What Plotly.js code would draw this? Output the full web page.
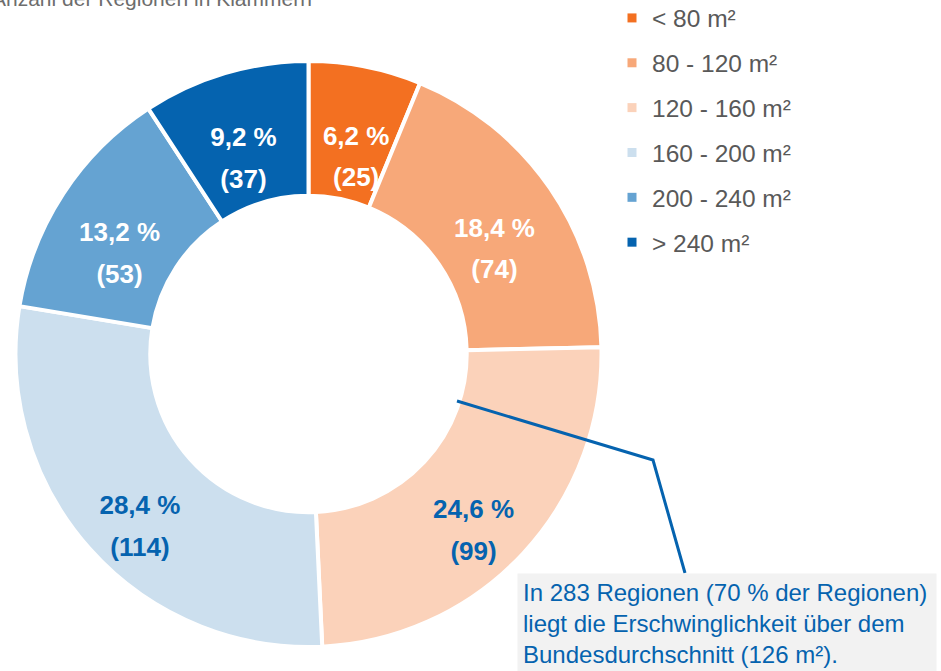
<!DOCTYPE html>
<html>
<head>
<meta charset="utf-8">
<script src="https://cdn.plot.ly/plotly-3.0.1.min.js"></script>
<style>html,body{margin:0;padding:0;background:#fff;}#chart{width:941px;height:671px;}</style>
</head>
<body>
<div id="chart"></div>
<script>
// ---- data ----
var categories = ['< 80 m²', '80 - 120 m²', '120 - 160 m²', '160 - 200 m²', '200 - 240 m²', '> 240 m²'];
var regionCounts = [25, 74, 99, 114, 53, 37];
var sliceColors = ['#F37021', '#F7A879', '#FBD2BA', '#CCDFEE', '#65A3D2', '#0563AF'];
var labelColors = ['#FFFFFF', '#FFFFFF', '#0563AF', '#0563AF', '#FFFFFF', '#FFFFFF'];
var subtitleText = 'Anzahl der Regionen in Klammern';
var noteText = 'In 283 Regionen (70 % der Regionen)<br>liegt die Erschwinglichkeit über dem<br>Bundesdurchschnitt (126 m²).';

var W = 941, H = 671;
function px(x) { return x / W; }
function py(y) { return 1 - y / H; }

var total = regionCounts.reduce(function (a, b) { return a + b; }, 0);
var sliceText = regionCounts.map(function (v) {
  var share = v / total;
  var p = (share * 100).toFixed(1).replace('.', ',');
  // invisible spacer lines push the label block towards the hole (narrow slices need more)
  var pad = '<span style="font-size:30px">\u00a0</span><br>\u00a0<br>';
  if (share < 0.08) pad += '\u00a0<br>\u00a0<br>';
  return pad + '<b><span style="font-size:26px">' + p + ' %</span></b><br><br><b><span style="font-size:26px">(' + v + ')</span></b>';
});

var FONT = 'Arial, "Liberation Sans", sans-serif';

var traces = [{
  type: 'pie',
  labels: categories,
  values: regionCounts,
  text: sliceText,
  textinfo: 'text',
  textposition: 'inside',
  insidetextorientation: 'horizontal',
  insidetextfont: { family: FONT, size: 16, color: labelColors },
  hole: 0.54,
  sort: false,
  direction: 'clockwise',
  rotation: 0,
  marker: { colors: sliceColors, line: { color: '#FFFFFF', width: 4 } },
  domain: { x: [px(15.5), px(601.5)], y: [py(647), py(61)] },
  showlegend: false,
  hoverinfo: 'label+value+percent'
}];

categories.forEach(function (c, i) {
  traces.push({
    type: 'scatter',
    mode: 'markers',
    x: [null], y: [null],
    name: c,
    legendgroup: 'g' + i,
    marker: { symbol: 'square', size: 9, color: sliceColors[i] },
    showlegend: true,
    hoverinfo: 'skip'
  });
});

var layout = {
  width: W, height: H,
  margin: { l: 0, r: 0, t: 0, b: 0, autoexpand: false },
  paper_bgcolor: '#FFFFFF',
  plot_bgcolor: 'rgba(0,0,0,0)',
  font: { family: FONT, color: '#595959' },
  xaxis: { visible: false, range: [0, 1] },
  yaxis: { visible: false, range: [0, 1] },
  showlegend: true,
  uniformtext: { minsize: 16, mode: 'show' },
  legend: {
    x: px(612), xanchor: 'left',
    y: py(-4.5), yanchor: 'top',
    font: { family: FONT, size: 24.5, color: '#595959' },
    tracegroupgap: 10,
    bgcolor: 'rgba(0,0,0,0)'
  },
  annotations: [
    {
      text: subtitleText,
      xref: 'paper', yref: 'paper',
      x: px(314), xanchor: 'right',
      y: py(-1), yanchor: 'middle',
      showarrow: false,
      font: { family: FONT, size: 21, color: '#6D6D6D' }
    },
    {
      text: noteText,
      xref: 'paper', yref: 'paper',
      x: px(517), xanchor: 'left',
      y: py(573), yanchor: 'top',
      showarrow: false,
      align: 'left',
      width: 408,
      bgcolor: '#F2F2F2',
      borderpad: 5,
      font: { family: FONT, size: 24, color: '#0563AF' }
    }
  ],
  shapes: [
    {
      type: 'path',
      xref: 'paper', yref: 'paper',
      path: 'M ' + px(457) + ' ' + py(401) + ' L ' + px(653) + ' ' + py(460) + ' L ' + px(685) + ' ' + py(573),
      line: { color: '#0563AF', width: 3 }
    }
  ]
};

Plotly.newPlot('chart', traces, layout, { displayModeBar: false, staticPlot: true });
</script>
</body>
</html>
